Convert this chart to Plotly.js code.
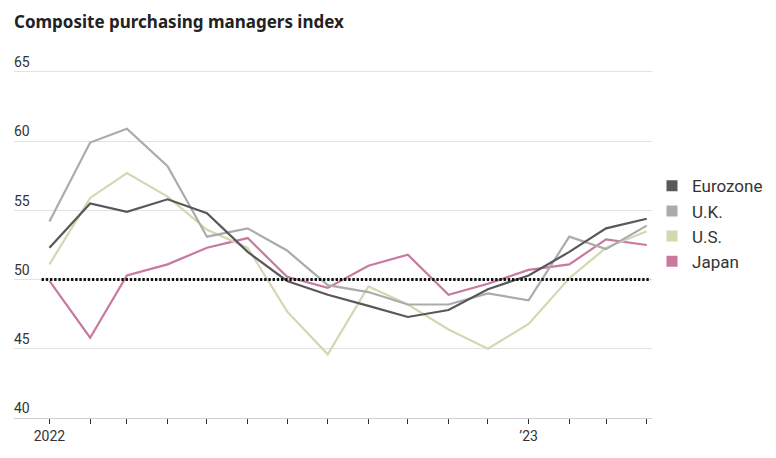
<!DOCTYPE html>
<html>
<head>
<meta charset="utf-8">
<script src="https://cdn.plot.ly/plotly-3.0.1.min.js"></script>
<style>
  html, body { margin: 0; padding: 0; background: #fff; }
  #graph { width: 776px; height: 458px; }
</style>
</head>
<body>
<div id="graph"></div>
<script>
// months Jan 2022 .. Apr 2023
var months = ['2022-01-01', '2022-02-01', '2022-03-01', '2022-04-01', '2022-05-01', '2022-06-01',
  '2022-07-01', '2022-08-01', '2022-09-01', '2022-10-01', '2022-11-01', '2022-12-01',
  '2023-01-01', '2023-02-01', '2023-03-01', '2023-04-01'];

var eurozone = [52.3, 55.5, 54.9, 55.8, 54.8, 52.0, 49.9, 48.9, 48.1, 47.3, 47.8, 49.3, 50.3, 52.0, 53.7, 54.4];
var uk = [54.2, 59.9, 60.9, 58.2, 53.1, 53.7, 52.1, 49.6, 49.1, 48.2, 48.2, 49.0, 48.5, 53.1, 52.2, 53.9];
var us = [51.1, 55.9, 57.7, 56.0, 53.6, 52.3, 47.7, 44.6, 49.5, 48.2, 46.4, 45.0, 46.8, 50.1, 52.3, 53.5];
var japan = [49.9, 45.8, 50.3, 51.1, 52.3, 53.0, 50.2, 49.4, 51.0, 51.8, 48.9, 49.7, 50.7, 51.1, 52.9, 52.5];

var seriesNames = ['Eurozone', 'U.K.', 'U.S.', 'Japan'];
var seriesColors = ['#58585a', '#ababab', '#d6d6b3', '#c9789f'];
var seriesValues = [eurozone, uk, us, japan];

var yTicks = [40, 45, 50, 55, 60, 65];
var xTickText = months.map(function (m) {
  if (m === '2022-01-01') return '2022';
  if (m === '2023-01-01') return '\u201923';
  return '';
});

var fontFamily = 'Roboto, "Noto Sans", sans-serif';

var data = [];
// the lines
for (var i = seriesValues.length - 1; i >= 0; i--) {
  data.push({
    x: months,
    y: seriesValues[i],
    type: 'scatter',
    mode: 'lines',
    line: { color: seriesColors[i], width: 2.2 },
    showlegend: false,
    hoverinfo: 'skip'
  });
}
// legend-only square markers
for (var j = 0; j < seriesNames.length; j++) {
  data.push({
    x: [null],
    y: [null],
    type: 'scatter',
    mode: 'markers',
    name: seriesNames[j],
    marker: { symbol: 'square', size: 11, color: seriesColors[j] },
    showlegend: true
  });
}

// plot area: y=40 at px 418, y=65 at px 72 -> 13.84 px per unit; extend top so 65 label fits
var yTop = 66.3;
var pxPerUnit = 346 / 25;
var marginTop = 72 - (yTop - 65) * pxPerUnit;

var layout = {
  width: 776,
  height: 458,
  margin: { l: 14, r: 124, t: marginTop, b: 40, autoexpand: false },
  paper_bgcolor: '#fff',
  plot_bgcolor: '#fff',
  font: { family: fontFamily, color: '#333', size: 14 },
  title: {
    text: '<b>Composite purchasing managers index</b>',
    font: { family: '"Noto Sans", sans-serif', size: 17, color: '#222' },
    x: 14 / 776, xref: 'container', xanchor: 'left',
    y: 1 - 22 / 458, yref: 'container', yanchor: 'middle'
  },
  xaxis: {
    type: 'date',
    range: ['2021-12-05', '2023-04-05'],
    tickvals: months,
    ticktext: xTickText,
    ticks: 'outside',
    ticklen: 5,
    tickwidth: 1,
    tickcolor: '#333',
    showline: true,
    linecolor: '#d0d0d0',
    linewidth: 1,
    showgrid: false,
    zeroline: false,
    tickfont: { size: 14, color: '#333' },
    fixedrange: true
  },
  yaxis: {
    range: [40, yTop],
    tickvals: yTicks,
    ticklabelposition: 'inside top',
    ticklabelstandoff: -3,
    showgrid: true,
    gridcolor: '#e2e2e2',
    gridwidth: 1,
    zeroline: false,
    showline: false,
    ticks: '',
    tickfont: { size: 14, color: '#333' },
    fixedrange: true
  },
  shapes: [{
    type: 'line',
    xref: 'x', yref: 'y',
    x0: '2021-12-26', x1: '2023-04-04',
    y0: 50, y1: 50,
    line: { color: '#111', width: 3, dash: '2.4px,1.8px' },
    layer: 'above'
  }],
  legend: {
    x: 1.0, xanchor: 'left',
    y: 0.686, yanchor: 'top',
    font: { size: 17, color: '#333', family: fontFamily },
    itemsizing: 'trace',
    bgcolor: 'rgba(0,0,0,0)'
  },
  hovermode: false
};

Plotly.newPlot('graph', data, layout, { displayModeBar: false, staticPlot: true });
</script>
</body>
</html>
